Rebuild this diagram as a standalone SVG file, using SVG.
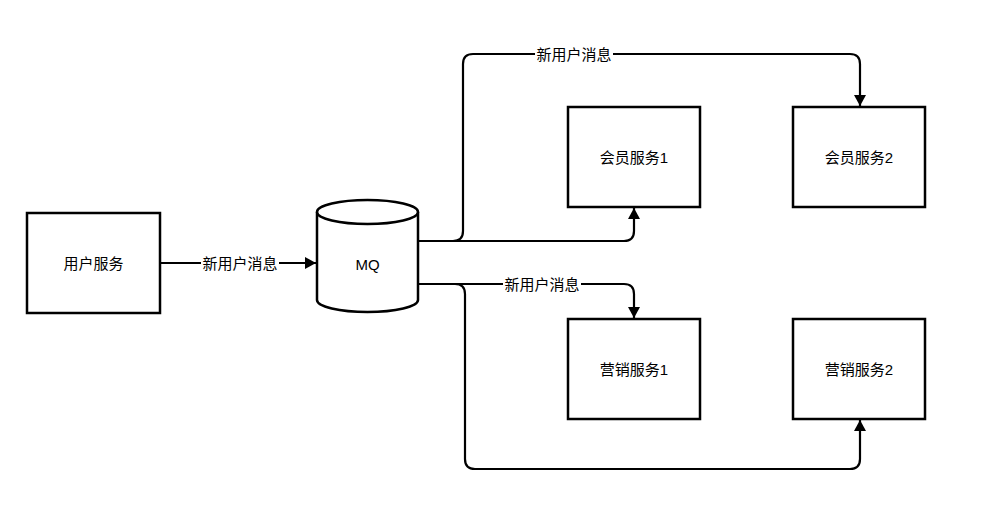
<svg xmlns="http://www.w3.org/2000/svg" width="1002" height="509" viewBox="0 0 1002 509">
<style>
.box{fill:#fff;stroke:#000;stroke-width:2.5}
.lbl{font-family:"Liberation Sans","Noto Sans CJK SC",sans-serif;font-size:15px;fill:#000;text-anchor:middle;dominant-baseline:central}
.edge{fill:none;stroke:#000;stroke-width:2.2}
.bg{fill:#fff}
</style>
<defs>
<marker id="arr" markerUnits="userSpaceOnUse" markerWidth="14" markerHeight="14" viewBox="0 0 14 14" refX="12" refY="7" orient="auto">
<path d="M1,1 L12,7 L1,13 Z" fill="#000"/>
</marker>
</defs>
<rect width="1002" height="509" fill="#fff"/>
<g id="connectors">
<path class="edge" d="M160,263 L316,263" marker-end="url(#arr)"/>
<path class="edge" d="M418,241 L453,241 Q463,241 463,231 L463,64 Q463,54 473,54 L850,54 Q860,54 860,64 L860,106" marker-end="url(#arr)"/>
<path class="edge" d="M418,241 L624,241 Q634,241 634,231 L634,208" marker-end="url(#arr)"/>
<path class="edge" d="M418,284 L624,284 Q634,284 634,294 L634,318" marker-end="url(#arr)"/>
<path class="edge" d="M418,284 L455,284 Q465,284 465,294 L465,459 Q465,469 475,469 L850,469 Q860,469 860,459 L860,420" marker-end="url(#arr)"/>
<rect class="bg" x="201" y="255" width="78" height="17"/>
<text class="lbl" x="240" y="263">新用户消息</text>
<rect class="bg" x="535" y="46" width="78" height="17"/>
<text class="lbl" x="574" y="54">新用户消息</text>
<rect class="bg" x="503" y="276" width="78" height="17"/>
<text class="lbl" x="542" y="284">新用户消息</text>
</g>
<g id="user-service">
<rect class="box" x="27" y="213" width="133" height="100"/>
<text class="lbl" x="93.5" y="263">用户服务</text>
</g>
<g id="mq">
<path class="box" d="M317,212 L317,300 A50.5,12 0 0 0 418,300 L418,212"/>
<ellipse class="box" cx="367.5" cy="212" rx="50.5" ry="12"/>
<text class="lbl" x="367.5" y="264">MQ</text>
</g>
<g id="member-service-1">
<rect class="box" x="568" y="107" width="132" height="100"/>
<text class="lbl" x="634" y="157">会员服务1</text>
</g>
<g id="member-service-2">
<rect class="box" x="793" y="107" width="132" height="100"/>
<text class="lbl" x="859" y="157">会员服务2</text>
</g>
<g id="marketing-service-1">
<rect class="box" x="568" y="319" width="132" height="100"/>
<text class="lbl" x="634" y="369">营销服务1</text>
</g>
<g id="marketing-service-2">
<rect class="box" x="793" y="319" width="132" height="100"/>
<text class="lbl" x="859" y="369">营销服务2</text>
</g>
</svg>
